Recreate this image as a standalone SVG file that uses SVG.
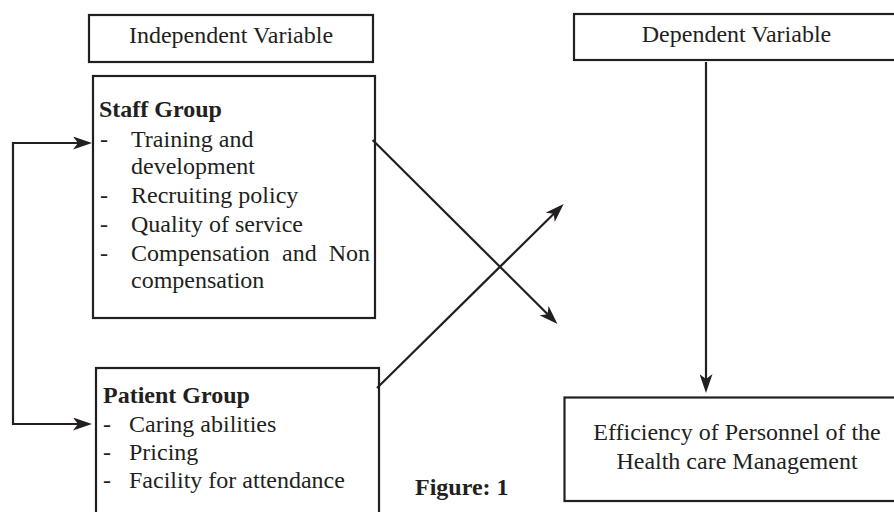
<svg xmlns="http://www.w3.org/2000/svg" width="894" height="512" viewBox="0 0 894 512">
<style>
.box{fill:#fff;stroke:#231f20;stroke-width:2.2}
.t{font-family:"Liberation Serif","Times New Roman",serif;font-size:24px;fill:#231f20}
.b{font-weight:bold}
.c{text-anchor:middle}
.e{text-anchor:end}
.ln{fill:none;stroke:#231f20;stroke-width:2.2}
</style>
<defs>
<marker id="ah" markerUnits="userSpaceOnUse" viewBox="0 0 19 13" markerWidth="19" markerHeight="13" refX="13" refY="6.5" orient="auto-start-reverse">
<path d="M0,0 L19,6.5 L0,13 L5,6.5 z" fill="#231f20"/>
</marker>
</defs>
<rect width="894" height="512" fill="#fff"/>
<g id="independent">
<rect class="box" x="89" y="15" width="284" height="47"/>
<text class="t c" x="231" y="43">Independent Variable</text>
</g>
<g id="dependent">
<rect class="box" x="574" y="14" width="324" height="46"/>
<text class="t c" x="736.5" y="42">Dependent Variable</text>
</g>
<g id="staff">
<rect class="box" x="93" y="76" width="282" height="242"/>
<text class="t b" x="99" y="117">Staff Group</text>
<text class="t" x="100" y="147">-</text><text class="t" x="131" y="147">Training and</text>
<text class="t" x="131" y="174">development</text>
<text class="t" x="100" y="203">-</text><text class="t" x="131" y="203">Recruiting policy</text>
<text class="t" x="100" y="232">-</text><text class="t" x="131" y="232">Quality of service</text>
<text class="t" x="100" y="261">-</text><text class="t" x="131" y="261">Compensation</text><text class="t" x="282" y="261">and</text><text class="t e" x="370" y="261">Non</text>
<text class="t" x="131" y="288">compensation</text>
</g>
<g id="patient">
<rect class="box" x="96" y="368" width="283" height="170"/>
<text class="t b" x="103" y="403">Patient Group</text>
<text class="t" x="103" y="432">-</text><text class="t" x="129" y="432">Caring abilities</text>
<text class="t" x="103" y="460">-</text><text class="t" x="129" y="460">Pricing</text>
<text class="t" x="103" y="488">-</text><text class="t" x="129" y="488">Facility for attendance</text>
</g>
<g id="efficiency">
<rect class="box" x="564.5" y="397.5" width="340" height="103.5"/>
<text class="t c" x="737" y="440">Efficiency of Personnel of the</text>
<text class="t c" x="737" y="469">Health care Management</text>
</g>
<g id="caption">
<text class="t b" x="415" y="495">Figure: 1</text>
</g>
<g id="connectors">
<path class="ln" d="M86,143 H13 V424 H86" marker-start="url(#ah)" marker-end="url(#ah)"/>
<line class="ln" x1="372.6" y1="140" x2="553.2" y2="319.8" marker-end="url(#ah)"/>
<line class="ln" x1="377" y1="388" x2="559.4" y2="208.2" marker-end="url(#ah)"/>
<line class="ln" x1="706" y1="62" x2="706" y2="387" marker-end="url(#ah)"/>
</g>
</svg>
